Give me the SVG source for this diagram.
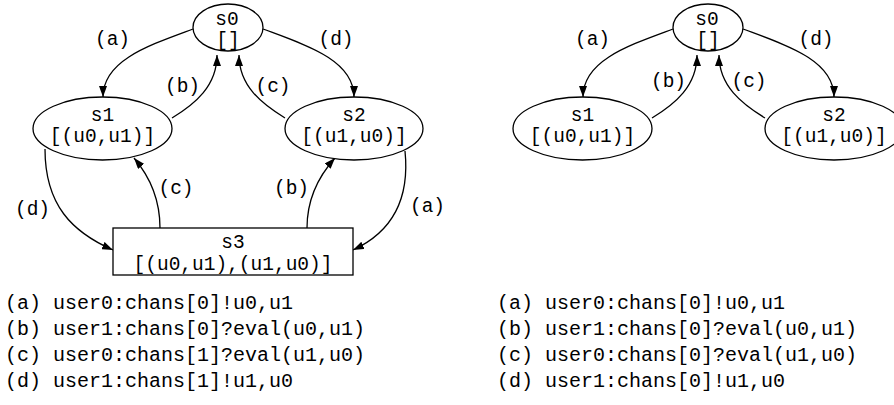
<svg xmlns="http://www.w3.org/2000/svg" width="894" height="405" viewBox="0 0 894 405">
<defs>
<style>
text{font-family:"Liberation Mono","DejaVu Sans Mono",monospace;font-size:19.5px;fill:#000;}
.c{text-anchor:middle;}
.lg{font-size:20px;}
.node{fill:#fff;stroke:#000;stroke-width:1.3;}
.edge{fill:none;stroke:#000;stroke-width:1.3;marker-end:url(#ah);}
</style>
<marker id="ah" viewBox="0 0 11 8" refX="11" refY="4" markerWidth="11" markerHeight="8" markerUnits="userSpaceOnUse" orient="auto">
<path d="M0,0 L11,4 L0,8 z" fill="#000"/>
</marker>
</defs>
<rect width="894" height="405" fill="#fff"/>

<!-- Left graph -->
<g id="left-edges">
<path class="edge" d="M193,29 C150,45 103,60 103,97"/>
<path class="edge" d="M263,29 C306,45 354,60 354,97"/>
<path class="edge" d="M172,118 C195,104 217,86 217,55"/>
<path class="edge" d="M285,118 C262,104 239,86 239,55"/>
<path class="edge" d="M45,149 C45,205 72,232 113,250"/>
<path class="edge" d="M160,228 C160,200 151,178 134,158"/>
<path class="edge" d="M307,228 C307,200 317,178 335,158"/>
<path class="edge" d="M405,151 C410,200 392,232 353,250"/>
<text class="c" x="112.5" y="45">(a)</text>
<text class="c" x="336" y="45">(d)</text>
<text class="c" x="182.5" y="92">(b)</text>
<text class="c" x="273" y="92">(c)</text>
<text class="c" x="176" y="194">(c)</text>
<text class="c" x="291.5" y="194">(b)</text>
<text class="c" x="32.5" y="215">(d)</text>
<text class="c" x="427.5" y="212">(a)</text>
</g>
<g id="L-s0">
<ellipse class="node" cx="228" cy="27.5" rx="35" ry="23.5"/>
<text class="c" x="227" y="25">s0</text>
<text class="c" x="228" y="45.5">[]</text>
</g>
<g id="L-s1">
<ellipse class="node" cx="102.5" cy="128.5" rx="69.5" ry="31.5"/>
<text class="c" x="102.5" y="121">s1</text>
<text class="c" x="102.5" y="142">[(u0,u1)]</text>
</g>
<g id="L-s2">
<ellipse class="node" cx="354" cy="128.5" rx="69" ry="31.5"/>
<text class="c" x="354" y="121">s2</text>
<text class="c" x="354" y="142">[(u1,u0)]</text>
</g>
<g id="L-s3">
<rect class="node" x="113" y="228" width="240" height="47"/>
<text class="c" x="233" y="248">s3</text>
<text class="c" x="233" y="270">[(u0,u1),(u1,u0)]</text>
</g>

<!-- Right graph -->
<g id="right-edges">
<path class="edge" d="M673,29 C630,45 583,60 583,97"/>
<path class="edge" d="M743,29 C786,45 834,60 834,97"/>
<path class="edge" d="M652,118 C675,104 697,86 697,55"/>
<path class="edge" d="M765,118 C742,104 719,86 719,55"/>
<text class="c" x="592.5" y="45">(a)</text>
<text class="c" x="816" y="45">(d)</text>
<text class="c" x="668.5" y="87">(b)</text>
<text class="c" x="749" y="87">(c)</text>
</g>
<g id="R-s0">
<ellipse class="node" cx="708" cy="27.5" rx="35" ry="23.5"/>
<text class="c" x="707" y="25">s0</text>
<text class="c" x="708" y="45.5">[]</text>
</g>
<g id="R-s1">
<ellipse class="node" cx="582.5" cy="128.5" rx="69.5" ry="31.5"/>
<text class="c" x="582.5" y="121">s1</text>
<text class="c" x="582.5" y="142">[(u0,u1)]</text>
</g>
<g id="R-s2">
<ellipse class="node" cx="834" cy="128.5" rx="69" ry="31.5"/>
<text class="c" x="834" y="121">s2</text>
<text class="c" x="834" y="142">[(u1,u0)]</text>
</g>

<!-- Legends -->
<g id="legend-left">
<text class="lg" x="5" y="309" xml:space="preserve">(a) user0:chans[0]!u0,u1</text>
<text class="lg" x="5" y="335" xml:space="preserve">(b) user1:chans[0]?eval(u0,u1)</text>
<text class="lg" x="5" y="361" xml:space="preserve">(c) user0:chans[1]?eval(u1,u0)</text>
<text class="lg" x="5" y="387" xml:space="preserve">(d) user1:chans[1]!u1,u0</text>
</g>
<g id="legend-right">
<text class="lg" x="497" y="309" xml:space="preserve">(a) user0:chans[0]!u0,u1</text>
<text class="lg" x="497" y="335" xml:space="preserve">(b) user1:chans[0]?eval(u0,u1)</text>
<text class="lg" x="497" y="361" xml:space="preserve">(c) user0:chans[0]?eval(u1,u0)</text>
<text class="lg" x="497" y="387" xml:space="preserve">(d) user1:chans[0]!u1,u0</text>
</g>
</svg>
